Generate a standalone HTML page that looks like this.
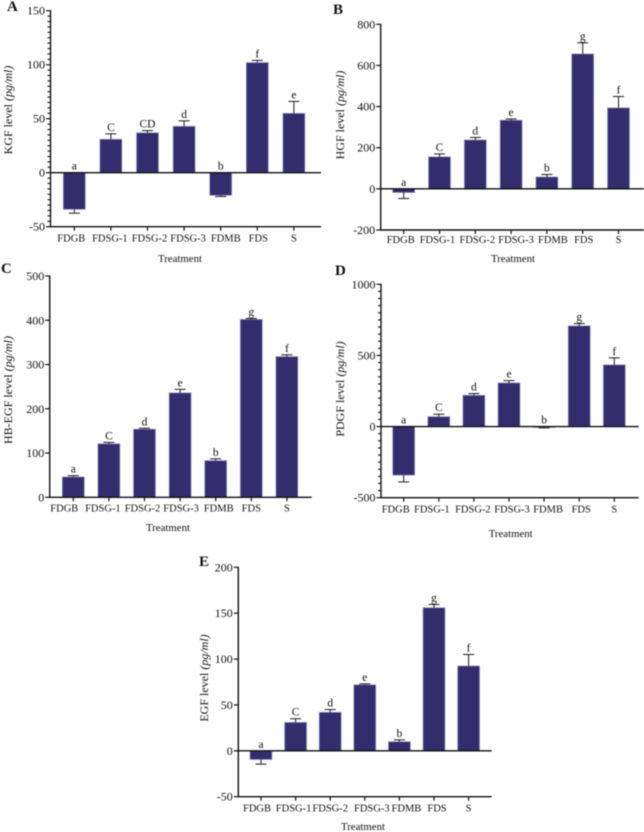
<!DOCTYPE html>
<html lang="en">
<head>
<meta charset="utf-8">
<title>Growth factor levels by treatment</title>
<style>
html,body{margin:0;padding:0;background:#fff;width:644px;height:832px;overflow:hidden}
svg{display:block;filter:blur(0.45px)}
text{font-family:"Liberation Serif",serif;fill:#111}
</style>
</head>
<body>
<svg id="figure" width="644" height="832" viewBox="0 0 644 832" xmlns="http://www.w3.org/2000/svg"></svg>
<script>
const categories = ["FDGB","FDSG-1","FDSG-2","FDSG-3","FDMB","FDS","S"];

const kgfValues = [-34,31,37,43,-21,102,55];
const kgfErrors = [3.5,5,2,5,1,2,11];
const kgfLetters = ["a","C","CD","d","b","f","e"];
const kgfTicks = [-50,0,50,100,150];

const hgfValues = [-18,156,238,334,58,656,394];
const hgfErrors = [29,14,12,6,12,54,55];
const hgfLetters = ["a","C","d","e","b","g","f"];
const hgfTicks = [-200,0,200,400,600,800];

const hbegfValues = [46,121,154,236,83,402,318];
const hbegfErrors = [3,3,2,8,4,2,4];
const hbegfLetters = ["a","C","d","e","b","g","f"];
const hbegfTicks = [0,100,200,300,400,500];

const pdgfValues = [-342,70,220,307,-6,708,434];
const pdgfErrors = [47,17,12,16,3,16,49];
const pdgfLetters = ["a","C","d","e","b","g","f"];
const pdgfTicks = [-500,0,500,1000];

const egfValues = [-9.5,31,42,72,10,156,92.5];
const egfErrors = [5,4,3,1,2,3.5,12.5];
const egfLetters = ["a","C","d","e","b","g","f"];
const egfTicks = [-50,0,50,100,150,200];

const panels = [
 {id:"a",letter:"A",factor:"KGF",values:kgfValues,errors:kgfErrors,sig:kgfLetters,ticks:kgfTicks,minor:5,
  axisX:50.5,endX:321,top:10.7,bottom:226.7,firstX:74.3,step:36.6,
  nudge:[-3,-1,2,4,5,1,0],labelY:241.5,titleX:180,titleY:262,yTitleX:12,yTitleY:110,letterX:7,letterY:11},
 {id:"b",letter:"B",factor:"HGF",values:hgfValues,errors:hgfErrors,sig:hgfLetters,ticks:hgfTicks,minor:0,
  axisX:380.7,endX:644,top:24.3,bottom:230,firstX:403.7,step:35.8,
  nudge:[-3,-2,2,5,6,1,0],labelY:243,titleX:513,titleY:262,yTitleX:344,yTitleY:115,letterX:333,letterY:14},
 {id:"c",letter:"C",factor:"HB-EGF",values:hbegfValues,errors:hbegfErrors,sig:hbegfLetters,ticks:hbegfTicks,minor:0,
  axisX:49.7,endX:311.7,top:276,bottom:497.3,firstX:73.3,step:35.6,
  nudge:[-9,-6,-2,1,3,0,0],labelY:511.7,titleX:168,titleY:531,yTitleX:12,yTitleY:390,letterX:1,letterY:273},
 {id:"d",letter:"D",factor:"PDGF",values:pdgfValues,errors:pdgfErrors,sig:pdgfLetters,ticks:pdgfTicks,minor:50,
  axisX:381,endX:638.7,top:284.3,bottom:497.7,firstX:403.7,step:35.1,
  nudge:[-8,-7,-1,3,4,2,0],labelY:512.7,titleX:510.7,titleY:537,yTitleX:344,yTitleY:389,letterX:335,letterY:275},
 {id:"e",letter:"E",factor:"EGF",values:egfValues,errors:egfErrors,sig:egfLetters,ticks:egfTicks,minor:0,
  axisX:238.3,endX:491.7,top:567.3,bottom:796.7,firstX:261,step:34.6,
  nudge:[-4,-2,0,7,7,3,0],labelY:811.7,titleX:363,titleY:830,yTitleX:208,yTitleY:678,letterX:199,letterY:566}
];

const NS = "http://www.w3.org/2000/svg";
const figure = document.getElementById("figure");

function make(parent, tag, props, content){
  const node = document.createElementNS(NS, tag);
  for (const key in props) node.setAttribute(key, props[key]);
  if (content !== undefined) node.textContent = content;
  parent.appendChild(node);
  return node;
}

function drawPanel(p){
  const minV = p.ticks[0];
  const maxV = p.ticks[p.ticks.length - 1];
  const yScale = v => p.bottom - (v - minV) / (maxV - minV) * (p.bottom - p.top);
  const xScale = i => p.firstX + i * p.step;
  const barWidth = 22;
  const capWidth = 11;

  const group = make(figure, "g", {});
  
  

  const panelLetter = make(group, "text", {x:p.letterX, y:p.letterY, "font-size":15, "font-weight":"bold"}, p.letter);
  
  

  p.values.forEach((value, i) => {
    const cx = xScale(i);
    const y0 = yScale(0);
    const yv = yScale(value);
    const dir = value >= 0 ? 1 : -1;
    const yErr = yScale(value + dir * p.errors[i]);

    const bar = make(group, "rect", {x:cx - barWidth / 2, y:Math.min(y0, yv), width:barWidth, height:Math.abs(yv - y0), fill:"#332d6e", stroke:"#9d9dca", "stroke-width":0.7});
    
    

    const stem = make(group, "line", {x1:cx, x2:cx, y1:yv, y2:yErr, stroke:"#1a1a1a", "stroke-width":1});
    
    

    const cap = make(group, "line", {x1:cx - capWidth / 2, x2:cx + capWidth / 2, y1:yErr, y2:yErr, stroke:"#1a1a1a", "stroke-width":1});
    
    

    const sigY = (value >= 0 ? yErr : y0) - 3;
    const sig = make(group, "text", {x:cx, y:sigY, "font-size":11.5, "text-anchor":"middle"}, p.sig[i]);
    
    

    const tick = make(group, "line", {x1:cx, x2:cx, y1:p.bottom, y2:p.bottom + 4, stroke:"#111", "stroke-width":1.2});
    
    

    const label = make(group, "text", {x:cx + p.nudge[i], y:p.labelY, "font-size":10.5, "text-anchor":"middle"}, categories[i]);
    
    
  });

  if (p.minor) {
    for (let v = minV; v <= maxV; v += p.minor) {
      if (p.ticks.includes(v)) continue;
      const minorTick = make(group, "line", {x1:p.axisX - 3, x2:p.axisX, y1:yScale(v), y2:yScale(v), stroke:"#111", "stroke-width":1.1});
      
      
    }
  }

  p.ticks.forEach(v => {
    const tick = make(group, "line", {x1:p.axisX - 4.5, x2:p.axisX, y1:yScale(v), y2:yScale(v), stroke:"#111", "stroke-width":1.2});
    
    

    const label = make(group, "text", {x:p.axisX - 5.5, y:yScale(v) + 4, "font-size":12, "text-anchor":"end"}, String(v));
    
    
  });

  const yAxis = make(group, "line", {x1:p.axisX, x2:p.axisX, y1:p.top - 0.6, y2:p.bottom + 0.6, stroke:"#111", "stroke-width":1.4});
  
  

  const xAxis = make(group, "line", {x1:p.axisX, x2:p.endX, y1:p.bottom, y2:p.bottom, stroke:"#111", "stroke-width":1.4});
  
  

  if (minV < 0) {
    const zero = make(group, "line", {x1:p.axisX, x2:p.endX, y1:yScale(0), y2:yScale(0), stroke:"#111", "stroke-width":1.4});
    
    
  }

  const xTitle = make(group, "text", {x:p.titleX, y:p.titleY, "font-size":10.8, "text-anchor":"middle"}, "Treatment");
  
  

  const yTitle = make(group, "text", {x:0, y:0, "font-size":12, "text-anchor":"middle", transform:"translate(" + p.yTitleX + "," + p.yTitleY + ") rotate(-90)"}, p.factor + " level ");
  
  
  make(yTitle, "tspan", {"font-style":"italic"}, "(pg/ml)");
}

panels.forEach(drawPanel);
</script>
</body>
</html>
